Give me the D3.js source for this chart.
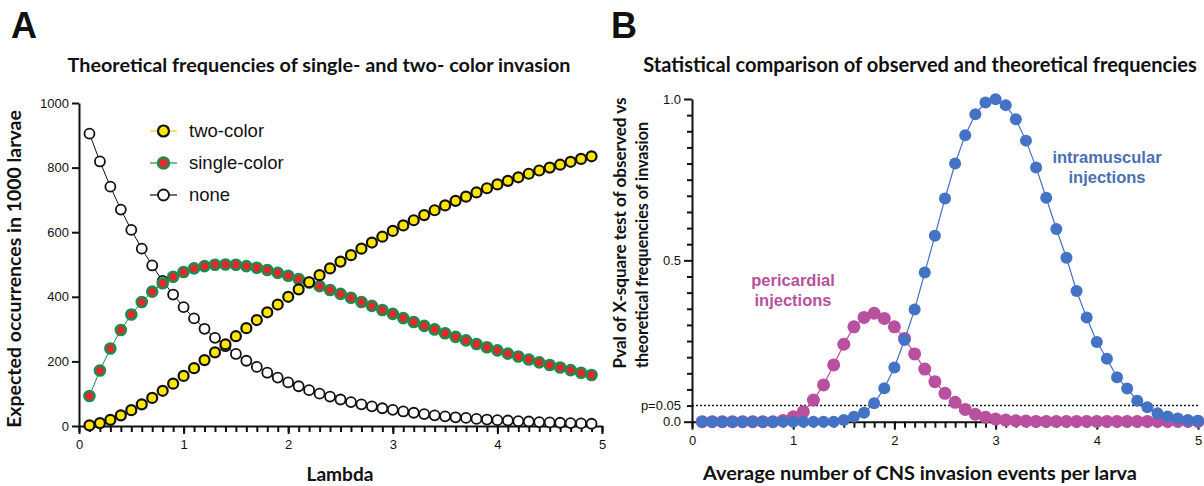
<!DOCTYPE html>
<html>
<head>
<meta charset="utf-8">
<script src="https://cdn.jsdelivr.net/npm/d3@7"></script>
<style>
  body { margin: 0; background: #fff; }
  svg text { fill: #111; }
</style>
</head>
<body>
<svg id="chart" width="1204" height="486"></svg>
<script>
// ---- panel A data (lambda 0.1 .. 4.9) ----
var lambdaA = [0.1,0.2,0.3,0.4,0.5,0.6,0.7,0.8,0.9,1.0,1.1,1.2,1.3,1.4,1.5,1.6,1.7,1.8,1.9,2.0,
  2.1,2.2,2.3,2.4,2.5,2.6,2.7,2.8,2.9,3.0,3.1,3.2,3.3,3.4,3.5,3.6,3.7,3.8,3.9,4.0,
  4.1,4.2,4.3,4.4,4.5,4.6,4.7,4.8,4.9];
var twoColor = [2,9,19,33,49,67,87,109,131,155,179,204,228,253,278,303,328,352,376,400,
  423,445,467,488,509,529,549,568,586,604,621,637,653,668,683,697,710,723,736,748,
  759,770,781,791,800,809,818,827,835];
var singleColor = [93,172,240,297,345,384,416,442,462,477,488,495,499,500,499,495,490,483,474,465,
  455,444,433,421,409,397,384,372,359,347,334,322,310,299,287,276,265,254,244,234,
  224,215,206,197,189,181,173,165,158];
var noneColor = [905,819,741,670,607,549,497,449,407,368,333,301,273,247,223,202,183,165,150,135,
  123,111,100,91,82,74,67,61,55,50,45,41,37,33,30,27,25,22,20,18,
  17,15,14,12,11,10,9,8,7];
var legendA = ["two-color", "single-color", "none"];

// ---- panel B data (average events 0.1 .. 5.0) ----
var avgB = [0.1,0.2,0.3,0.4,0.5,0.6,0.7,0.8,0.9,1.0,1.1,1.2,1.3,1.4,1.5,1.6,1.7,1.8,1.9,2.0,
  2.1,2.2,2.3,2.4,2.5,2.6,2.7,2.8,2.9,3.0,3.1,3.2,3.3,3.4,3.5,3.6,3.7,3.8,3.9,4.0,
  4.1,4.2,4.3,4.4,4.5,4.6,4.7,4.8,4.9,5.0];
var pericardial = [0,0,0,0,0,0,0,0,0.004,0.015,0.031,0.067,0.114,0.176,0.24,0.294,0.323,0.336,0.32,0.294,
  0.258,0.21,0.163,0.124,0.088,0.06,0.038,0.023,0.014,0.008,0.005,0.003,0.002,0.001,0.001,0.001,0.001,0.001,0.001,0.001,
  0.001,0.001,0.001,0.001,0.001,0.001,0.001,0.001,0.001,0.001];
var intramuscular = [0,0,0,0,0,0,0,0,0,0,0,0,0,0,0.005,0.015,0.028,0.057,0.104,0.168,
  0.253,0.348,0.462,0.576,0.692,0.80,0.888,0.953,0.989,0.999,0.981,0.937,0.871,0.788,0.694,0.597,0.508,0.405,0.323,0.247,
  0.195,0.138,0.103,0.065,0.045,0.026,0.016,0.010,0.005,0.003];
var pThreshold = 0.05;

var svg = d3.select("#chart");
var titleFont = "Lato, 'Open Sans', sans-serif";
var tickFont = "'Liberation Sans', Arial, sans-serif";

// bold label, font size tuned so the text spans roughly `width` px
function label(g, text, transform, width, size) {
  var t = g.append("text").attr("transform", transform).attr("text-anchor", "middle")
    .attr("font-family", titleFont).attr("font-weight", "bold").attr("font-size", size).text(text);
  var len = t.node().getComputedTextLength();
  if (len > 0) t.attr("font-size", size * width / len);
  return t;
}

function drawXAxis(g, x, y0, minorVals, majorVals) {
  g.append("g")
    .attr("transform", "translate(0," + y0 + ")")
    .call(d3.axisBottom(x).tickValues(minorVals).tickSize(6).tickSizeOuter(0).tickFormat(""))
    .call(s => s.selectAll("line,path").attr("stroke", "#111").attr("stroke-width", 2));
  g.append("g")
    .attr("transform", "translate(0," + y0 + ")")
    .call(d3.axisBottom(x).tickValues(majorVals).tickSize(8).tickSizeOuter(0).tickFormat(d3.format("d")))
    .call(s => s.select(".domain").remove())
    .call(s => s.selectAll("line").attr("stroke", "#111").attr("stroke-width", 2))
    .call(s => s.selectAll("text").attr("font-family", tickFont).attr("font-size", 13).attr("dy", "0.95em").attr("fill", "#222"));
}

// ================= Panel A =================
var xA = d3.scaleLinear().domain([0, 5]).range([79, 602]);
var yA = d3.scaleLinear().domain([0, 1000]).range([426, 103]);
var gA = svg.append("g");

gA.append("text").attr("x", 11).attr("y", 38).attr("font-family", "'Liberation Sans', Arial")
  .attr("font-weight", "bold").attr("font-size", 36).text("A");
label(gA, "Theoretical frequencies of single- and two- color invasion", "translate(319,72)", 503, 18);

drawXAxis(gA, xA, 426, d3.range(0, 51).map(d => d / 10), [0, 1, 2, 3, 4, 5]);
gA.append("g")
  .attr("transform", "translate(79,0)")
  .call(d3.axisLeft(yA).tickValues([0, 200, 400, 600, 800, 1000]).tickSize(7).tickSizeOuter(0).tickFormat(d3.format("d")))
  .call(s => s.selectAll("line,path").attr("stroke", "#111").attr("stroke-width", 2))
  .call(s => s.selectAll("text").attr("font-family", tickFont).attr("font-size", 13).attr("fill", "#222"));

label(gA, "Expected occurrences in 1000 larvae", "translate(21,269) rotate(-90)", 318, 18);
label(gA, "Lambda", "translate(340,481)", 67, 18);

var seriesA = [
  { name: "none", vals: noneColor, line: "#111", fill: "#fff", stroke: "#111", sw: 1.8 },
  { name: "single-color", vals: singleColor, line: "#1f8c4e", fill: "#e8262a", stroke: "#1f8c4e", sw: 2.6 },
  { name: "two-color", vals: twoColor, line: "#e8d800", fill: "#ffe600", stroke: "#111", sw: 2.2 }
];
var lineA = d3.line().x((d, i) => xA(lambdaA[i])).y(d => yA(d));
seriesA.forEach(function (s) {
  gA.append("path").datum(s.vals).attr("d", lineA)
    .attr("fill", "none").attr("stroke", s.line).attr("stroke-width", 1);
  gA.append("g").selectAll("circle").data(s.vals).enter().append("circle")
    .attr("cx", (d, i) => xA(lambdaA[i])).attr("cy", d => yA(d)).attr("r", 5)
    .attr("fill", s.fill).attr("stroke", s.stroke).attr("stroke-width", s.sw);
});

// legend
var legY = d3.scalePoint().domain(legendA).range([131, 195]);
legendA.forEach(function (name) {
  var s = seriesA.find(d => d.name === name);
  var lg = gA.append("g").attr("transform", "translate(0," + legY(name) + ")");
  lg.append("line").attr("x1", 150).attr("x2", 177).attr("stroke", s.line).attr("stroke-width", 1.2);
  lg.append("circle").attr("cx", 163.5).attr("r", 5.5)
    .attr("fill", s.fill).attr("stroke", s.stroke).attr("stroke-width", s.sw);
  lg.append("text").attr("x", 189).attr("dy", "0.35em")
    .attr("font-family", tickFont).attr("font-size", 18.5).attr("fill", "#222").text(name);
});

// ================= Panel B =================
var xB = d3.scaleLinear().domain([0, 5]).range([692, 1198]);
var yB = d3.scaleLinear().domain([0, 1]).range([421.7, 99]);
var gB = svg.append("g");

gB.append("text").attr("x", 611).attr("y", 38).attr("font-family", "'Liberation Sans', Arial")
  .attr("font-weight", "bold").attr("font-size", 36).text("B");
label(gB, "Statistical comparison of observed and theoretical frequencies", "translate(920,72)", 554, 18);

drawXAxis(gB, xB, 421.7, d3.range(0, 51).map(d => d / 10), [0, 1, 2, 3, 4, 5]);
gB.append("g")
  .attr("transform", "translate(692,0)")
  .call(d3.axisLeft(yB).tickValues(d3.range(0, 21).map(d => d / 20).filter(d => d !== 0 && d !== 0.5 && d !== 1))
    .tickSize(5).tickSizeOuter(0).tickFormat(""))
  .call(s => s.selectAll("line,path").attr("stroke", "#111").attr("stroke-width", 2));
gB.append("g")
  .attr("transform", "translate(692,0)")
  .call(d3.axisLeft(yB).tickValues([0, 0.5, 1]).tickSize(8).tickSizeOuter(0).tickFormat(d3.format(".1f")))
  .call(s => s.select(".domain").remove())
  .call(s => s.selectAll("line").attr("stroke", "#111").attr("stroke-width", 2))
  .call(s => s.selectAll("text").attr("font-family", tickFont).attr("font-size", 13).attr("fill", "#222"));
gB.append("text").attr("x", 681).attr("y", yB(pThreshold)).attr("dy", "0.32em").attr("text-anchor", "end")
  .attr("font-family", tickFont).attr("font-size", 13).attr("fill", "#222").text("p=0.05");
gB.append("line").attr("x1", xB(0)).attr("x2", xB(5)).attr("y1", yB(pThreshold)).attr("y2", yB(pThreshold))
  .attr("stroke", "#111").attr("stroke-width", 1.5).attr("stroke-dasharray", "2,2");

label(gB, "Pval of X-square test of observed vs", "translate(626,233) rotate(-90)", 271, 16);
label(gB, "theoretical frequencies of invasion", "translate(648,245) rotate(-90)", 246, 16);
label(gB, "Average number of CNS invasion events per larva", "translate(920,480)", 434, 18);

var seriesB = [
  { name: "pericardial", vals: pericardial, color: "#b94f9f", r: 6.5 },
  { name: "intramuscular", vals: intramuscular, color: "#4472c4", r: 6 }
];
var lineB = d3.line().x((d, i) => xB(avgB[i])).y(d => yB(d));
seriesB.forEach(function (s) {
  gB.append("path").datum(s.vals).attr("d", lineB)
    .attr("fill", "none").attr("stroke", s.color).attr("stroke-width", 1.2);
  gB.append("g").selectAll("circle").data(s.vals).enter().append("circle")
    .attr("cx", (d, i) => xB(avgB[i])).attr("cy", d => yB(d)).attr("r", s.r)
    .attr("fill", s.color);
});

var notes = [
  { lines: ["pericardial", "injections"], x: 793, y: 286, color: "#b94f9f" },
  { lines: ["intramuscular", "injections"], x: 1107, y: 163, color: "#4a6fb5" }
];
notes.forEach(function (n) {
  n.lines.forEach(function (t, i) {
    gB.append("text").attr("x", n.x).attr("y", n.y + i * 20).attr("text-anchor", "middle")
      .attr("font-family", tickFont).attr("font-weight", "bold").attr("font-size", 16.5)
      .style("fill", n.color).text(t);
  });
});
</script>
</body>
</html>
